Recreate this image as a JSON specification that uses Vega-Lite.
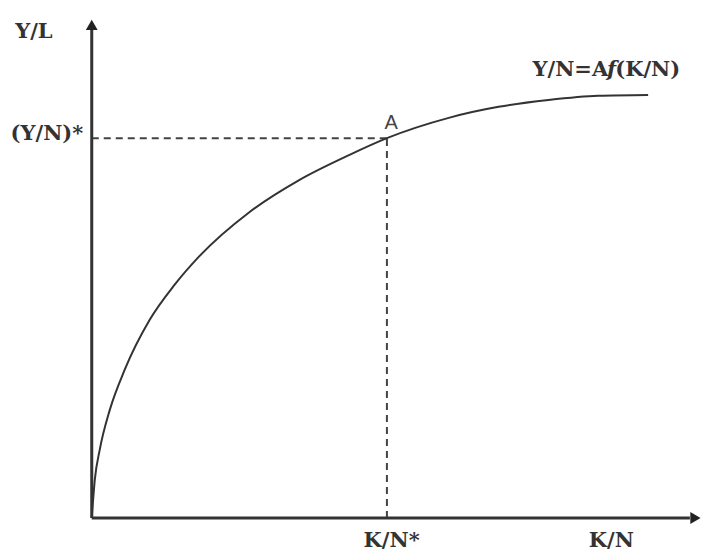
{
  "$schema": "https://vega.github.io/schema/vega-lite/v6.json",
  "width": 701,
  "height": 556,
  "autosize": {"type": "fit", "contains": "padding"},
  "padding": 0,
  "background": "white",
  "config": {"view": {"stroke": null}},
  "datasets": {
    "curve": [
      {"k": 0, "y": 0},
      {"k": 0.054, "y": 0.898},
      {"k": 0.143, "y": 1.61},
      {"k": 0.323, "y": 2.55},
      {"k": 0.591, "y": 3.5},
      {"k": 1.039, "y": 4.68},
      {"k": 1.487, "y": 5.51},
      {"k": 1.935, "y": 6.19},
      {"k": 2.832, "y": 7.23},
      {"k": 3.728, "y": 7.99},
      {"k": 4.624, "y": 8.58},
      {"k": 5.305, "y": 8.98},
      {"k": 6.416, "y": 9.46},
      {"k": 7.312, "y": 9.72},
      {"k": 8.208, "y": 9.88},
      {"k": 9.104, "y": 9.98},
      {"k": 10, "y": 10}
    ],
    "axes": [
      {"k": 0, "y": 0, "k2": 10.75, "y2": 0},
      {"k": 0, "y": 0, "k2": 0, "y2": 11.55}
    ],
    "arrowsUp": [{"k": 0, "y": 11.66}],
    "arrowsRight": [{"k": 10.85, "y": 0}],
    "dashes": [
      {"k": 0, "y": 8.98, "k2": 5.305, "y2": 8.98},
      {"k": 5.305, "y": 0, "k2": 5.305, "y2": 8.98}
    ],
    "labels": [
      {"k": -1.04, "y": 11.49, "text": "Y/L"},
      {"k": -0.806, "y": 9.08, "text": "(Y/N)*"},
      {"k": 5.39, "y": -0.54, "text": "K/N*"},
      {"k": 9.34, "y": -0.54, "text": "K/N"}
    ],
    "pointLabel": [{"k": 5.38, "y": 9.34, "text": "A"}],
    "eqLeft": [{"k": 9.283, "y": 10.59, "text": "Y/N=A"}],
    "eqF": [{"k": 9.34, "y": 10.59, "text": "f"}],
    "eqRight": [{"k": 9.409, "y": 10.59, "text": "(K/N)"}]
  },
  "layer": [
    {
      "data": {"name": "dashes"},
      "mark": {"type": "rule", "strokeDash": [7, 5], "strokeWidth": 2, "color": "#444"},
      "encoding": {
        "x": {"field": "k", "type": "quantitative", "scale": {"domain": [-1.649, 10.914], "nice": false, "zero": false}, "axis": null},
        "y": {"field": "y", "type": "quantitative", "scale": {"domain": [-0.898, 12.246], "nice": false, "zero": false}, "axis": null},
        "x2": {"field": "k2"},
        "y2": {"field": "y2"}
      }
    },
    {
      "data": {"name": "axes"},
      "mark": {"type": "rule", "strokeWidth": 3, "color": "#333"},
      "encoding": {
        "x": {"field": "k", "type": "quantitative"},
        "y": {"field": "y", "type": "quantitative"},
        "x2": {"field": "k2"},
        "y2": {"field": "y2"}
      }
    },
    {
      "data": {"name": "arrowsUp"},
      "mark": {"type": "point", "shape": "triangle-up", "filled": true, "size": 140, "color": "#222", "opacity": 1},
      "encoding": {
        "x": {"field": "k", "type": "quantitative"},
        "y": {"field": "y", "type": "quantitative"}
      }
    },
    {
      "data": {"name": "arrowsRight"},
      "mark": {"type": "point", "shape": "triangle-right", "filled": true, "size": 140, "color": "#222", "opacity": 1},
      "encoding": {
        "x": {"field": "k", "type": "quantitative"},
        "y": {"field": "y", "type": "quantitative"}
      }
    },
    {
      "data": {"name": "curve"},
      "mark": {"type": "line", "interpolate": "monotone", "strokeWidth": 2, "color": "#333"},
      "encoding": {
        "x": {"field": "k", "type": "quantitative"},
        "y": {"field": "y", "type": "quantitative"}
      }
    },
    {
      "data": {"name": "labels"},
      "mark": {"type": "text", "font": "DejaVu Serif", "fontWeight": "bold", "fontSize": 21, "color": "#333", "align": "center", "baseline": "middle"},
      "encoding": {
        "x": {"field": "k", "type": "quantitative"},
        "y": {"field": "y", "type": "quantitative"},
        "text": {"field": "text"}
      }
    },
    {
      "data": {"name": "pointLabel"},
      "mark": {"type": "text", "font": "Liberation Sans", "fontSize": 20, "color": "#444", "align": "center", "baseline": "middle"},
      "encoding": {
        "x": {"field": "k", "type": "quantitative"},
        "y": {"field": "y", "type": "quantitative"},
        "text": {"field": "text"}
      }
    },
    {
      "data": {"name": "eqLeft"},
      "mark": {"type": "text", "font": "DejaVu Serif", "fontWeight": "bold", "fontSize": 21, "color": "#333", "align": "right", "baseline": "middle"},
      "encoding": {
        "x": {"field": "k", "type": "quantitative"},
        "y": {"field": "y", "type": "quantitative"},
        "text": {"field": "text"}
      }
    },
    {
      "data": {"name": "eqF"},
      "mark": {"type": "text", "font": "DejaVu Serif", "fontWeight": "bold", "fontStyle": "italic", "fontSize": 21, "color": "#333", "align": "center", "baseline": "middle"},
      "encoding": {
        "x": {"field": "k", "type": "quantitative"},
        "y": {"field": "y", "type": "quantitative"},
        "text": {"field": "text"}
      }
    },
    {
      "data": {"name": "eqRight"},
      "mark": {"type": "text", "font": "DejaVu Serif", "fontWeight": "bold", "fontSize": 21, "color": "#333", "align": "left", "baseline": "middle"},
      "encoding": {
        "x": {"field": "k", "type": "quantitative"},
        "y": {"field": "y", "type": "quantitative"},
        "text": {"field": "text"}
      }
    }
  ]
}
